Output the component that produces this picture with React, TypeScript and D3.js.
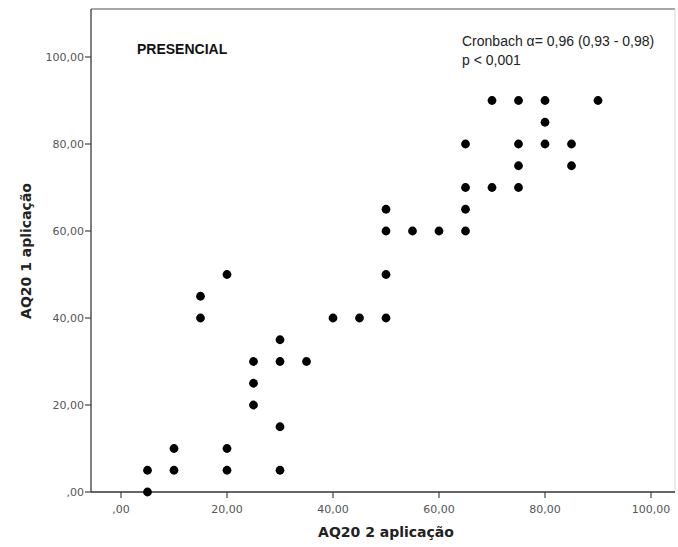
import React from "react";
import * as d3 from "d3";

// AQ20 scores: second application (x) vs first application (y)
const aq20Second = [
  5, 5, 10, 10, 15, 15, 20, 20, 20, 25, 25, 25, 30, 30, 30, 30, 35, 40, 45, 50, 50,
  50, 50, 55, 60, 65, 65, 65, 65, 70, 70, 75, 75, 75, 75, 80, 80, 80, 85, 85, 90,
];
const aq20First = [
  0, 5, 5, 10, 40, 45, 50, 5, 10, 20, 25, 30, 5, 15, 30, 35, 30, 40, 40, 40, 50,
  60, 65, 60, 60, 60, 65, 70, 80, 70, 90, 70, 75, 80, 90, 80, 85, 90, 75, 80, 90,
];
const tickValues = [0, 20, 40, 60, 80, 100];
const groupLabel = "PRESENCIAL";
const statLines = ["Cronbach α= 0,96 (0,93 - 0,98)", "p < 0,001"];
const xTitle = "AQ20 2 aplicação";
const yTitle = "AQ20 1 aplicação";

const W = 678;
const H = 547;
const frame = { left: 91, top: 9, right: 675, bottom: 492 };

const fmt = (v: number) => (v === 0 ? ",00" : d3.format(".2f")(v).replace(".", ","));

export default function App() {
  const x = d3.scaleLinear().domain([0, 100]).range([121, 651]);
  const y = d3.scaleLinear().domain([0, 100]).range([492, 57]);
  const tickFont = "'DejaVu Sans', sans-serif";
  const points = aq20Second.map((v, i) => ({ x: v, y: aq20First[i] }));

  return (
    <svg
      width={W}
      height={H}
      style={{ position: "absolute", left: 0, top: 0, background: "#fff" }}
    >
      <rect x={0} y={0} width={W} height={H} fill="#fff" />
      {/* frame */}
      <line x1={frame.left} x2={frame.right} y1={frame.top} y2={frame.top} stroke="#8a8a8a" strokeWidth={1.5} />
      <line x1={frame.right} x2={frame.right} y1={frame.top} y2={frame.bottom} stroke="#d8d8d8" strokeWidth={1} />
      <line x1={frame.left} x2={frame.left} y1={frame.top} y2={frame.bottom} stroke="#555" strokeWidth={1.5} />
      <line x1={frame.left} x2={frame.right} y1={frame.bottom} y2={frame.bottom} stroke="#333" strokeWidth={1.5} />

      {/* y ticks */}
      {tickValues.map((t) => (
        <g key={"y" + t}>
          <line x1={frame.left - 6} x2={frame.left} y1={y(t)} y2={y(t)} stroke="#444" strokeWidth={1.2} />
          <text
            x={frame.left - 7}
            y={y(t)}
            dy="0.36em"
            textAnchor="end"
            fontFamily={tickFont}
            fontSize={11}
            fill="#555"
          >
            {fmt(t)}
          </text>
        </g>
      ))}

      {/* x ticks */}
      {tickValues.map((t) => (
        <g key={"x" + t}>
          <line x1={x(t)} x2={x(t)} y1={frame.bottom} y2={frame.bottom + 6} stroke="#444" strokeWidth={1.2} />
          <text
            x={x(t)}
            y={513}
            textAnchor="middle"
            fontFamily={tickFont}
            fontSize={11}
            fill="#555"
          >
            {fmt(t)}
          </text>
        </g>
      ))}

      {/* points */}
      {points.map((p, i) => (
        <circle key={i} cx={x(p.x)} cy={y(p.y)} r={4.4} fill="#000" />
      ))}

      {/* annotations */}
      <text x={137} y={54} fontFamily="'Liberation Sans', Arial, sans-serif" fontWeight="bold" fontSize={14} fill="#111">
        {groupLabel}
      </text>
      {statLines.map((s, i) => (
        <text
          key={i}
          x={462}
          y={46 + i * 19}
          fontFamily="'Liberation Sans', Arial, sans-serif"
          fontSize={14}
          fill="#222"
        >
          {s}
        </text>
      ))}

      {/* axis titles */}
      <text
        x={386}
        y={537}
        textAnchor="middle"
        fontFamily={tickFont}
        fontWeight="bold"
        fontSize={14}
        fill="#222"
      >
        {xTitle}
      </text>
      <text
        transform={`translate(31,251) rotate(-90)`}
        textAnchor="middle"
        fontFamily={tickFont}
        fontWeight="bold"
        fontSize={14}
        fill="#222"
      >
        {yTitle}
      </text>
    </svg>
  );
}
